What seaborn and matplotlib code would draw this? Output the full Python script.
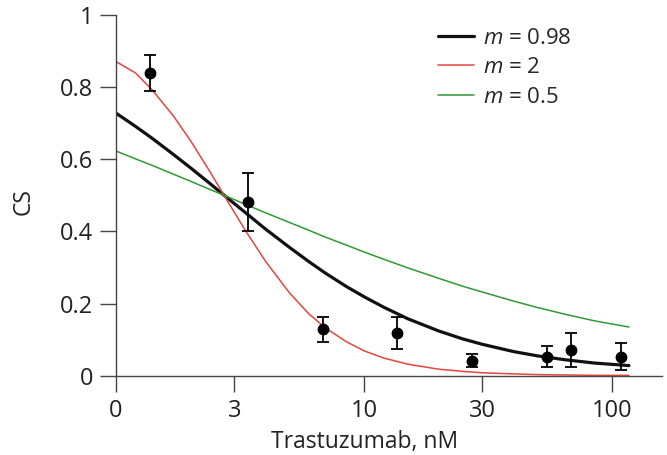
import seaborn as sns
import matplotlib.pyplot as plt
import pandas as pd

# ── data ──────────────────────────────────────────────────────────────────────
# curve samples (x in nM, left edge "0" sits at x = 1 on the log axis)
curve_x = [1, 1.2, 1.4, 1.7, 2, 2.4, 2.8, 3.3, 4, 5, 6, 7, 8.5, 10, 12, 15,
           20, 25, 30, 40, 50, 65, 85, 117]
cs_m098 = [0.728, 0.691, 0.658, 0.614, 0.576, 0.532, 0.494, 0.454, 0.407,
           0.356, 0.316, 0.284, 0.247, 0.219, 0.190, 0.158, 0.124, 0.102,
           0.087, 0.067, 0.055, 0.044, 0.035, 0.028]
cs_m2 = [0.871, 0.839, 0.792, 0.721, 0.651, 0.564, 0.487, 0.406, 0.318,
         0.230, 0.171, 0.132, 0.094, 0.069, 0.049, 0.032, 0.018, 0.012,
         0.008, 0.005, 0.003, 0.002, 0.001, 0.001]
cs_m05 = [0.623, 0.601, 0.583, 0.559, 0.539, 0.516, 0.497, 0.476, 0.452,
          0.425, 0.403, 0.384, 0.362, 0.343, 0.323, 0.299, 0.270, 0.248,
          0.232, 0.207, 0.189, 0.170, 0.152, 0.135]

# measured points
dose = [1.37, 3.42, 6.82, 13.6, 27.2, 54.8, 68.1, 108.7]
cs_mean = [0.840, 0.481, 0.129, 0.119, 0.042, 0.052, 0.071, 0.053]
cs_err = [0.050, 0.080, 0.035, 0.045, 0.018, 0.029, 0.048, 0.037]

x_ticks = [1, 3, 10, 30, 100]
x_tick_labels = ["0", "3", "10", "30", "100"]
y_ticks = [0, 0.2, 0.4, 0.6, 0.8, 1.0]
y_tick_labels = ["0", "0.2", "0.4", "0.6", "0.8", "1"]

series_names = ["$m$ = 0.98", "$m$ = 2", "$m$ = 0.5"]

# ── long table for seaborn ───────────────────────────────────────────────────
df = pd.DataFrame({
    "x": curve_x * 3,
    "CS": cs_m098 + cs_m2 + cs_m05,
    "model": [series_names[0]] * len(curve_x)
             + [series_names[1]] * len(curve_x)
             + [series_names[2]] * len(curve_x),
})

sns.set_style("ticks")
plt.rcParams["font.family"] = ["Open Sans", "DejaVu Sans"]
plt.rcParams["mathtext.fontset"] = "custom"
plt.rcParams["mathtext.it"] = "Open Sans:italic"
plt.rcParams["mathtext.rm"] = "Open Sans"

fig = plt.figure(figsize=(6.67, 4.55), dpi=100)
ax = fig.add_axes([0.1739, 0.1743, 0.8186, 0.7927])

sns.lineplot(
    ax=ax, data=df, x="x", y="CS", hue="model", size="model",
    palette={series_names[0]: "#111111", series_names[1]: "#e5453f",
             series_names[2]: "#2f9a32"},
    sizes={series_names[0]: 2.3, series_names[1]: 1.1, series_names[2]: 1.1},
    estimator=None, sort=False,
)

ax.errorbar(dose, cs_mean, yerr=cs_err, fmt="o", color="black",
            markersize=7.5, elinewidth=1.3, capsize=4.5, capthick=1.3,
            zorder=5)

ax.set_xscale("log")
ax.set_xlim(1, 159)
ax.set_ylim(0, 1)
ax.set_xticks(x_ticks)
ax.set_xticklabels(x_tick_labels)
ax.minorticks_off()
ax.set_yticks(y_ticks)
ax.set_yticklabels(y_tick_labels)

ax.tick_params(axis="both", length=11.5, width=1.0, color="#444444",
               labelsize=17, labelcolor="#222222", pad=5)
for side in ["left", "bottom"]:
    ax.spines[side].set_color("#444444")
    ax.spines[side].set_linewidth(1.0)
sns.despine(ax=ax)

ax.set_xlabel("Trastuzumab, nM", fontsize=16.5, color="#222222")
ax.set_ylabel("CS", fontsize=16.5, color="#222222")
ax.xaxis.set_label_coords(0.456, -0.15)
ax.yaxis.set_label_coords(-0.148, 0.482)

handles, labels = ax.get_legend_handles_labels()
ax.legend(handles, labels, loc="upper left", bbox_to_anchor=(0.59, 0.965),
          frameon=False, fontsize=16, handlelength=1.6, handletextpad=0.4,
          labelspacing=0.38, borderpad=0, borderaxespad=0)

fig.savefig("out.png", dpi=100)
